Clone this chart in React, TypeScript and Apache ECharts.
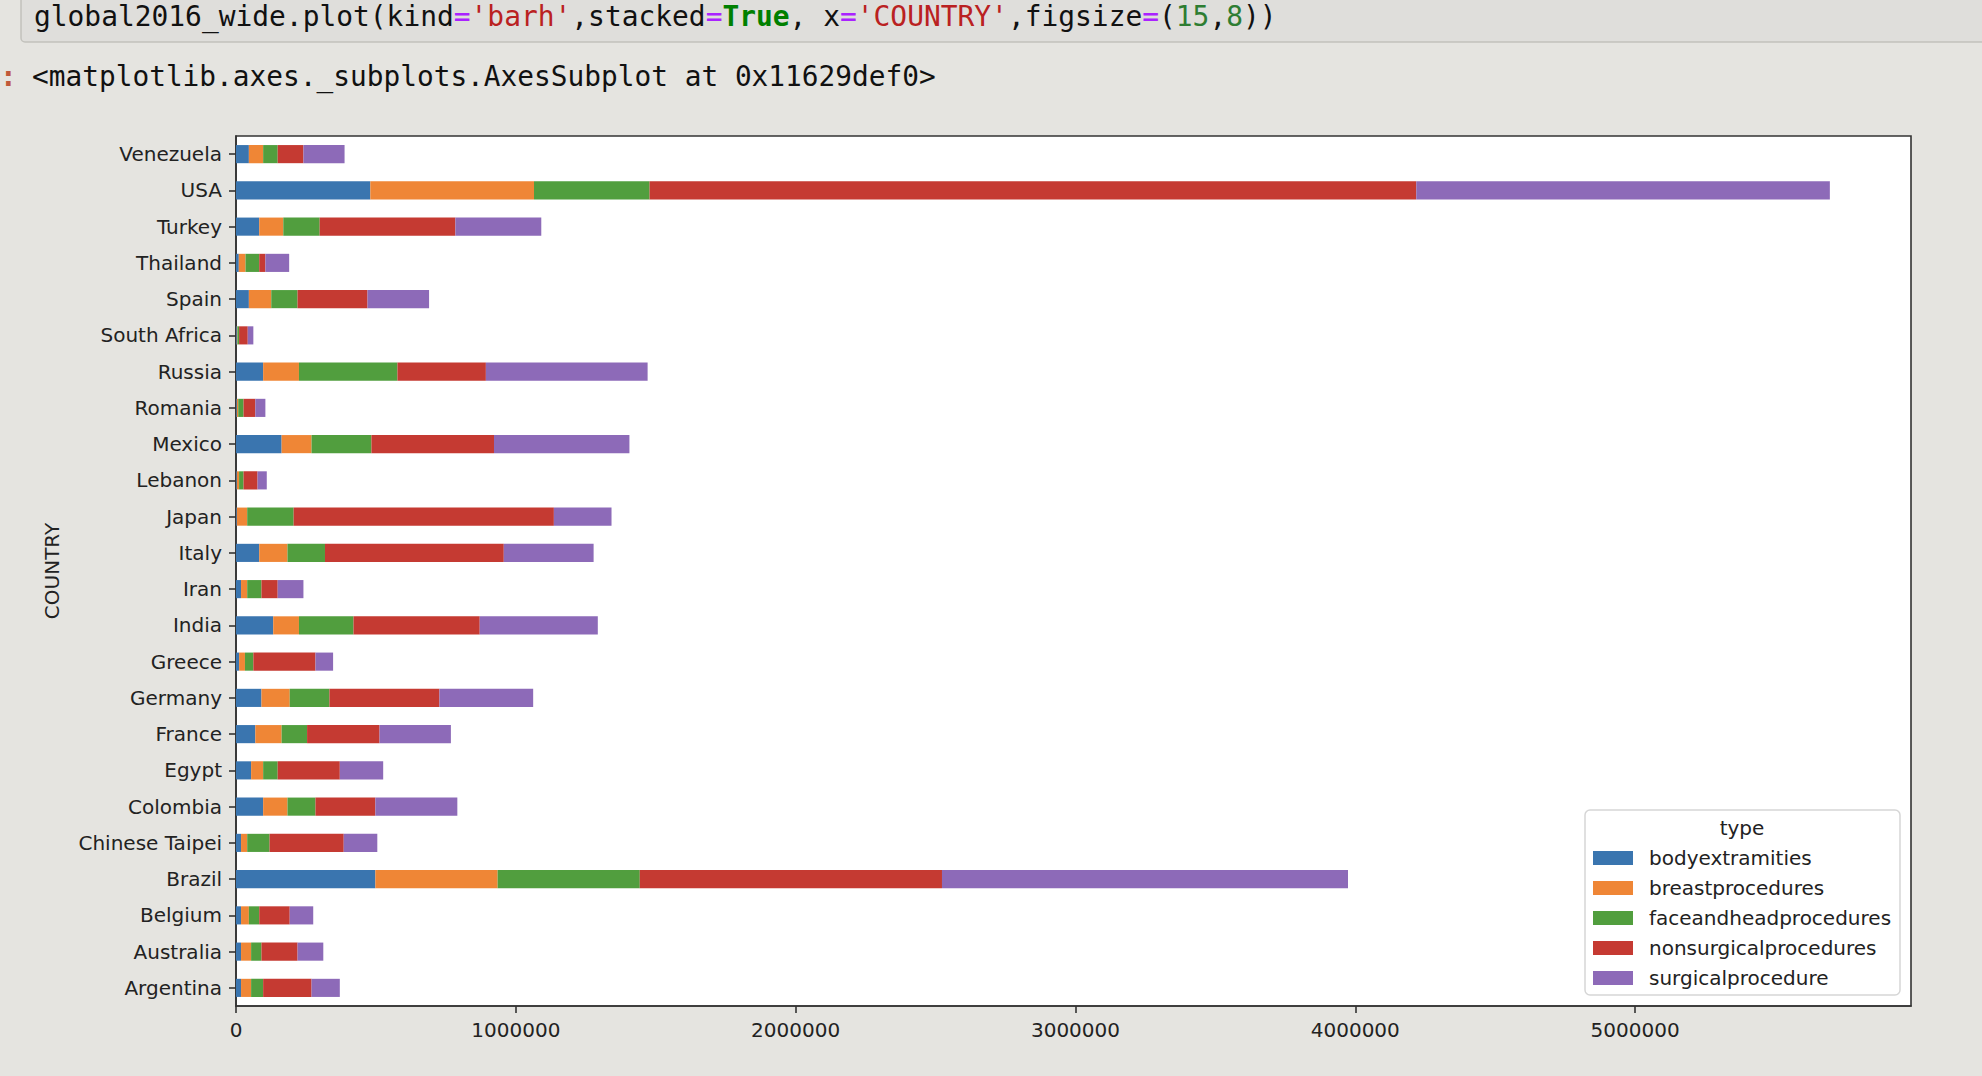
import React, { useEffect, useRef } from "react";
import * as echarts from "echarts";

const countries = [
  "Argentina", "Australia", "Belgium", "Brazil", "Chinese Taipei", "Colombia",
  "Egypt", "France", "Germany", "Greece", "India", "Iran", "Italy", "Japan",
  "Lebanon", "Mexico", "Romania", "Russia", "South Africa", "Spain",
  "Thailand", "Turkey", "USA", "Venezuela",
];

const bodyextramities = [
  18000, 18000, 18000, 498000, 18000, 97000, 54000, 69000, 91000, 11000, 133000, 18000,
  83000, 3000, 3000, 163000, 3000, 97000, 3000, 46000, 10000, 83000, 480000, 46000,
];
const breastprocedures = [
  36000, 36000, 28000, 437000, 22000, 87000, 43000, 94000, 101000, 21000, 92000, 22000,
  101000, 37000, 8000, 107000, 5000, 128000, 2000, 80000, 24000, 86000, 585000, 51000,
];
const faceandheadprocedures = [
  43000, 37000, 37000, 508000, 80000, 100000, 52000, 91000, 142000, 30000, 195000, 51000,
  134000, 166000, 16000, 214000, 19000, 352000, 6000, 94000, 49000, 130000, 413000, 52000,
];
const nonsurgicalprocedures = [
  173000, 129000, 109000, 1080000, 265000, 214000, 222000, 259000, 393000, 222000, 451000, 58000,
  639000, 930000, 50000, 438000, 42000, 316000, 31000, 250000, 22000, 485000, 2740000, 92000,
];
const surgicalprocedure = [
  101000, 92000, 84000, 1451000, 120000, 293000, 155000, 255000, 335000, 63000, 422000, 92000,
  321000, 206000, 33000, 484000, 36000, 578000, 20000, 220000, 85000, 307000, 1478000, 147000,
];

const seriesNames = [
  "bodyextramities", "breastprocedures", "faceandheadprocedures",
  "nonsurgicalprocedures", "surgicalprocedure",
];
const seriesValues = [
  bodyextramities, breastprocedures, faceandheadprocedures,
  nonsurgicalprocedures, surgicalprocedure,
];
const colors = ["#3a75af", "#ef8636", "#519e3e", "#c53a32", "#8d6ab8"];

const xTickInterval = 1000000;
const xMax = 5986000;

const codeLine =
  "{n|global2016_wide.plot(kind}{p|=}{s|'barh'}{n|,stacked}{p|=}{k|True}{n|, x}{p|=}{s|'COUNTRY'}{n|,figsize}{p|=}{n|(}{g|15}{n|,}{g|8}{n|))}";
const outLine = "<matplotlib.axes._subplots.AxesSubplot at 0x11629def0>";

const MONO = "'DejaVu Sans Mono', monospace";
const SANS = "'DejaVu Sans', sans-serif";

export default function App() {
  const ref = useRef<HTMLDivElement>(null);

  useEffect(() => {
    if (!ref.current) return;
    const chart = echarts.init(ref.current, undefined, { renderer: "svg" });
    const codeFs = 27.9;
    const outFs = 27.8;
    chart.setOption({
      animation: false,
      backgroundColor: "#e5e4e0",
      grid: {
        left: 236,
        top: 136,
        right: 71,
        bottom: 70,
        show: true,
        backgroundColor: "#ffffff",
        borderColor: "#333333",
        borderWidth: 1.6,
      },
      xAxis: {
        type: "value",
        min: 0,
        max: xMax,
        interval: xTickInterval,
        axisLine: { show: true, lineStyle: { color: "#333", width: 1.6 } },
        axisTick: { show: true, length: 7, lineStyle: { color: "#333", width: 1.6 } },
        splitLine: { show: false },
        axisLabel: {
          margin: 14,
          fontSize: 20,
          fontFamily: SANS,
          color: "#222",
          showMaxLabel: false,
          formatter: (v: number) => String(v),
        },
      },
      yAxis: {
        type: "category",
        data: countries,
        name: "COUNTRY",
        nameLocation: "middle",
        nameRotate: 90,
        nameGap: 174,
        nameTextStyle: { fontSize: 20, fontFamily: SANS, color: "#222" },
        axisLine: { show: true, lineStyle: { color: "#333", width: 1.6 } },
        axisTick: { show: true, alignWithLabel: true, length: 7, lineStyle: { color: "#333", width: 1.6 } },
        splitLine: { show: false },
        axisLabel: { margin: 14, fontSize: 20, fontFamily: SANS, color: "#222" },
      },
      legend: {
        orient: "vertical",
        left: 1593,
        top: 848,
        padding: 0,
        itemGap: 10,
        itemWidth: 40,
        itemHeight: 14,
        icon: "rect",
        z: 10,
        data: seriesNames,
        textStyle: {
          fontSize: 20,
          lineHeight: 20,
          fontFamily: SANS,
          color: "#222",
          padding: [0, 0, 0, 11],
        },
      },
      series: seriesNames.map((name, i) => ({
        name,
        type: "bar",
        stack: "total",
        barWidth: "50%",
        data: seriesValues[i],
        itemStyle: { color: colors[i] },
      })),
      graphic: [
        {
          type: "rect",
          z: 1,
          shape: { x: 21, y: -10, width: 2000, height: 52, r: 4 },
          style: { fill: "#dfdedb", stroke: "#c2c1bc", lineWidth: 1.5 },
        },
        {
          type: "text",
          z: 2,
          x: 34,
          y: 16.5,
          style: {
            text: codeLine,
            verticalAlign: "middle",
            font: `${codeFs}px ${MONO}`,
            rich: {
              n: { fontSize: codeFs, fontFamily: MONO, fill: "#111" },
              p: { fontSize: codeFs, fontFamily: MONO, fill: "#aa22ff" },
              s: { fontSize: codeFs, fontFamily: MONO, fill: "#ba2121" },
              k: { fontSize: codeFs, fontFamily: MONO, fill: "#008000", fontWeight: "bold" },
              g: { fontSize: codeFs, fontFamily: MONO, fill: "#2e7d32" },
            },
          },
        },
        {
          type: "text",
          z: 2,
          x: 0,
          y: 76,
          style: {
            text: ":",
            verticalAlign: "middle",
            font: `bold ${outFs}px ${MONO}`,
            fill: "#c0593a",
          },
        },
        {
          type: "text",
          z: 2,
          x: 32,
          y: 76,
          style: {
            text: outLine,
            verticalAlign: "middle",
            font: `${outFs}px ${MONO}`,
            fill: "#111",
          },
        },
        {
          type: "rect",
          z: 5,
          shape: { x: 1585, y: 810, width: 315, height: 185, r: 5 },
          style: { fill: "rgba(255,255,255,0.9)", stroke: "#d6d6d6", lineWidth: 1.5 },
        },
        {
          type: "text",
          z: 6,
          x: 1742,
          y: 828,
          style: {
            text: "type",
            align: "center",
            verticalAlign: "middle",
            font: `20px ${SANS}`,
            fill: "#222",
          },
        },
      ],
    });
    return () => chart.dispose();
  }, []);

  return (
    <div
      ref={ref}
      style={{ position: "fixed", left: 0, top: 0, width: 1982, height: 1076, background: "#e5e4e0" }}
    />
  );
}
